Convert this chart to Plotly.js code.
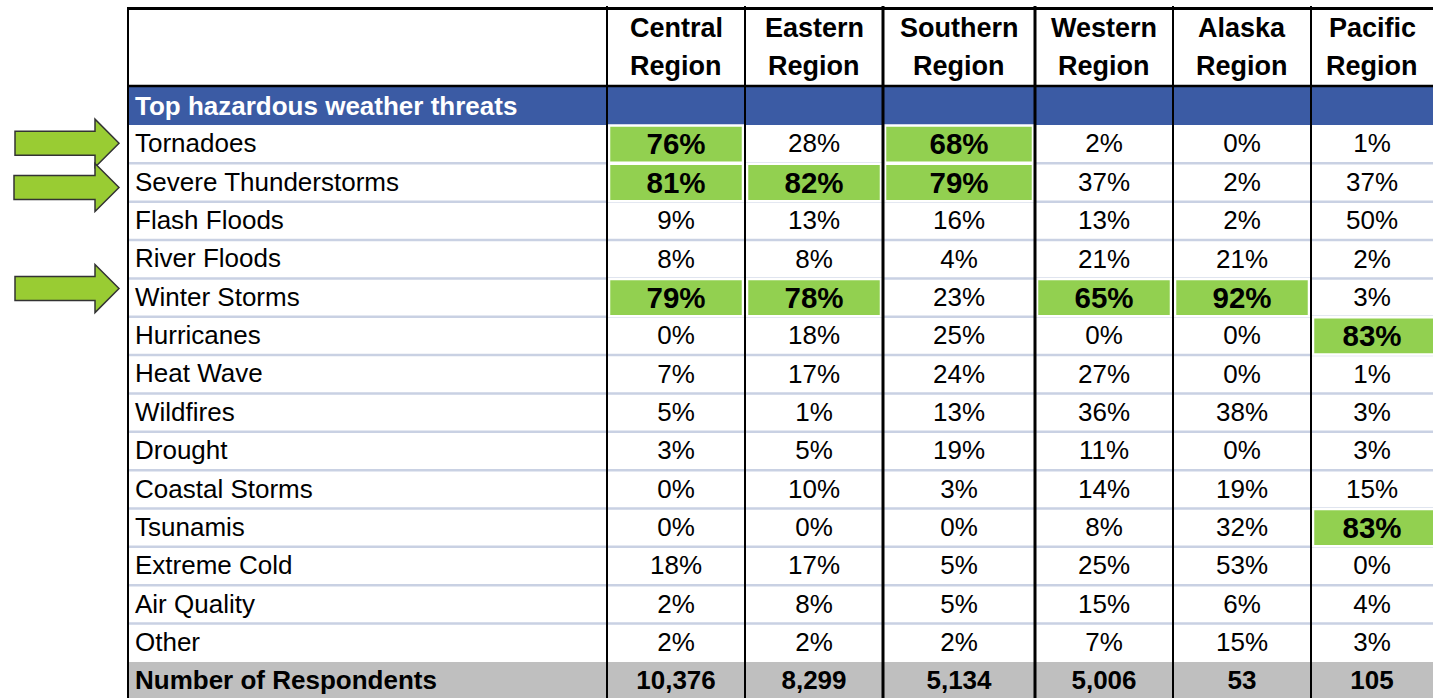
<!DOCTYPE html>
<html>
<head>
<meta charset="utf-8">
<script src="https://cdn.plot.ly/plotly-3.0.1.min.js"></script>
<style>
  html, body { margin: 0; padding: 0; background: #ffffff; }
  #chart { width: 1433px; height: 698px; }
</style>
</head>
<body>
<div id="chart"></div>
<script>
// ---------------- DATA ----------------
const threats = [
  "Tornadoes", "Severe Thunderstorms", "Flash Floods", "River Floods",
  "Winter Storms", "Hurricanes", "Heat Wave", "Wildfires", "Drought",
  "Coastal Storms", "Tsunamis", "Extreme Cold", "Air Quality", "Other"
];
const regionNames = ["Central", "Eastern", "Southern", "Western", "Alaska", "Pacific"];
const centralRegion  = [76, 81,  9,  8, 79,  0,  7,  5,  3,  0,  0, 18,  2,  2];
const easternRegion  = [28, 82, 13,  8, 78, 18, 17,  1,  5, 10,  0, 17,  8,  2];
const southernRegion = [68, 79, 16,  4, 23, 25, 24, 13, 19,  3,  0,  5,  5,  2];
const westernRegion  = [ 2, 37, 13, 21, 65,  0, 27, 36, 11, 14,  8, 25, 15,  7];
const alaskaRegion   = [ 0,  2,  2, 21, 92,  0,  0, 38,  0, 19, 32, 53,  6, 15];
const pacificRegion  = [ 1, 37, 50,  2,  3, 83,  1,  3,  3, 15, 83,  0,  4,  3];
const respondents    = [10376, 8299, 5134, 5006, 53, 105];
const sectionTitle = "Top hazardous weather threats";
const totalLabel = "Number of Respondents";
const headerSecondLine = "Region";
const arrowedThreats = ["Tornadoes", "Severe Thunderstorms", "Winter Storms"];
const HIGHLIGHT_MIN = 60;   // values at or above are highlighted

const seriesByRegion = [centralRegion, easternRegion, southernRegion,
                        westernRegion, alaskaRegion, pacificRegion];

// ---------------- LAYOUT CONSTANTS ----------------
const W = 1433, H = 698;
const colEdges = [128, 607, 745, 883, 1035, 1173, 1311, 1440];
const colLineW = [2, 2, 2, 3, 3, 2, 2];
const TOP_LINE = 8.5, HEAD_LINE = 86, BAND_TOP = 87, BAND_BOTTOM = 125;
const ROW_H = 38.35;
const LABEL_X = 133;
const FONT = "Arial, 'Liberation Sans', sans-serif";
const C_BLUE = "#3b5ba4", C_GREEN = "#92d050", C_ARROW = "#99cc33",
      C_GRAY = "#bfbfbf", C_SEP = "#c9d1e3";
const arrowNudge = [-1, 5, -9];
const arrowStart = [15, 14, 15];
const VAL_SHIFT = 1.8, BOLD_SHIFT = 2.8, LABEL_SHIFT = -0.8;

const rowTop = i => BAND_BOTTOM + i * ROW_H;
const rowMid = i => rowTop(i) + ROW_H / 2;
const colMid = j => (colEdges[j] + Math.min(colEdges[j + 1], W)) / 2;

const fmt = n => n.toLocaleString("en-US");

// ---------------- SHAPES ----------------
const shapes = [];
// blue band
shapes.push({type: "rect", xref: "x", yref: "y", layer: "below",
  x0: colEdges[0], x1: W + 5, y0: BAND_TOP, y1: BAND_BOTTOM,
  fillcolor: C_BLUE, line: {width: 0}});
// respondents gray row
shapes.push({type: "rect", xref: "x", yref: "y", layer: "below",
  x0: colEdges[0], x1: W + 5, y0: rowTop(threats.length), y1: H + 5,
  fillcolor: C_GRAY, line: {width: 0}});
// row separators
for (let i = 1; i < threats.length; i++) {
  shapes.push({type: "line", xref: "x", yref: "y", layer: "below",
    x0: colEdges[0], x1: W + 5, y0: rowTop(i), y1: rowTop(i),
    line: {color: C_SEP, width: 2.5}});
}
// highlighted cells
seriesByRegion.forEach((vals, j) => {
  vals.forEach((v, i) => {
    if (v >= HIGHLIGHT_MIN) {
      shapes.push({type: "rect", xref: "x", yref: "y", layer: "below",
        x0: colEdges[j + 1] + 2, x1: colEdges[j + 2] - 2,
        y0: rowTop(i) + 0.5, y1: rowTop(i + 1) - 0.5,
        fillcolor: C_GREEN, line: {color: "#ffffff", width: 2.5}});
    }
  });
});
// top border and header bottom line
shapes.push({type: "line", xref: "x", yref: "y", layer: "below",
  x0: colEdges[0] - 1, x1: W + 5, y0: TOP_LINE, y1: TOP_LINE,
  line: {color: "#000000", width: 3}});
shapes.push({type: "line", xref: "x", yref: "y", layer: "below",
  x0: colEdges[0] - 1, x1: W + 5, y0: HEAD_LINE, y1: HEAD_LINE,
  line: {color: "#000000", width: 2.5}});
// vertical lines
colEdges.slice(0, 7).forEach((x, k) => {
  shapes.push({type: "line", xref: "x", yref: "y", layer: "below",
    x0: x, x1: x, y0: k === 0 ? TOP_LINE - 1 : 6, y1: H + 5,
    line: {color: "#000000", width: colLineW[k]}});
});
// arrows
arrowedThreats.forEach((name, k) => {
  const cy = rowMid(threats.indexOf(name)) + arrowNudge[k];
  const x0 = arrowStart[k], xh = 95, tip = 119;
  const p = `M ${x0},${cy - 12} L ${xh},${cy - 12} L ${xh},${cy - 24} L ${tip},${cy} ` +
            `L ${xh},${cy + 24} L ${xh},${cy + 12} L ${x0},${cy + 12} Z`;
  shapes.push({type: "path", xref: "x", yref: "y", layer: "above", path: p,
    fillcolor: C_ARROW, line: {color: "#333333", width: 1.5}});
});

// ---------------- TEXT ----------------
const annotations = [];
const ann = (x, y, text, opts) => Object.assign({
  xref: "x", yref: "y", x: x, y: y, text: text, showarrow: false,
  xanchor: "center", yanchor: "middle",
  font: {family: FONT, size: 26, color: "#000000"}
}, opts || {});

// headers
regionNames.forEach((r, j) => {
  annotations.push(ann(colMid(j + 1), 27.5, "<b>" + r + "</b>", {font: {family: FONT, size: 27, color: "#000000"}}));
  annotations.push(ann(colMid(j + 1), 66, "<b>" + headerSecondLine + "</b>", {font: {family: FONT, size: 27, color: "#000000"}}));
});
annotations.push(ann(LABEL_X, (BAND_TOP + BAND_BOTTOM) / 2 - 0.5, "<b>" + sectionTitle + "</b>",
  {xanchor: "left", font: {family: FONT, size: 26, color: "#ffffff"}}));
threats.forEach((t, i) => {
  annotations.push(ann(LABEL_X, rowMid(i) + LABEL_SHIFT, t, {xanchor: "left"}));
});
annotations.push(ann(LABEL_X, rowMid(threats.length) + LABEL_SHIFT, "<b>" + totalLabel + "</b>", {xanchor: "left"}));

// value cells as a text trace
const vx = [], vy = [], vt = [], vs = [];
seriesByRegion.forEach((vals, j) => {
  vals.forEach((v, i) => {
    const hi = v >= HIGHLIGHT_MIN;
    vx.push(colMid(j + 1));
    vy.push(rowMid(i) + (hi ? BOLD_SHIFT : VAL_SHIFT));
    vt.push(hi ? "<b>" + v + "%</b>" : v + "%");
    vs.push(hi ? 29.5 : 26);
  });
});
respondents.forEach((n, j) => {
  vx.push(colMid(j + 1));
  vy.push(rowMid(threats.length) + VAL_SHIFT);
  vt.push("<b>" + fmt(n) + "</b>");
  vs.push(26);
});

const trace = {
  type: "scatter", mode: "text", x: vx, y: vy, text: vt,
  textposition: "middle center",
  textfont: {family: FONT, size: vs, color: "#000000"},
  hoverinfo: "skip", showlegend: false, cliponaxis: false
};

const layout = {
  width: W, height: H,
  margin: {l: 0, r: 0, t: 0, b: 0, pad: 0},
  paper_bgcolor: "#ffffff", plot_bgcolor: "#ffffff",
  xaxis: {range: [0, W], visible: false, fixedrange: true},
  yaxis: {range: [H, 0], visible: false, fixedrange: true},
  shapes: shapes, annotations: annotations, showlegend: false
};

Plotly.newPlot("chart", [trace], layout, {staticPlot: true, displayModeBar: false});
</script>
</body>
</html>
